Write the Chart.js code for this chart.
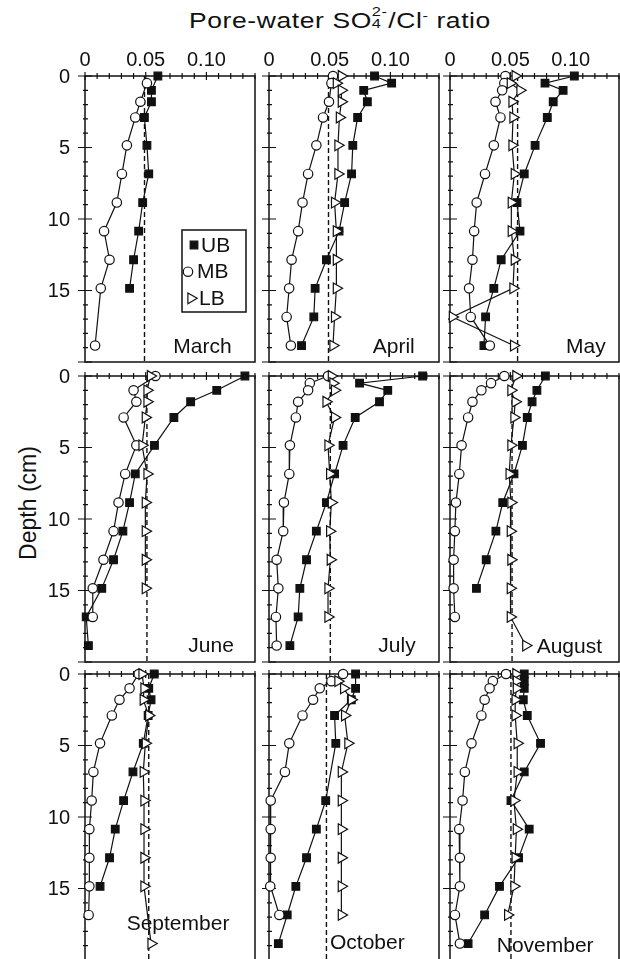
<!DOCTYPE html>
<html>
<head>
<meta charset="utf-8">
<script src="https://cdn.jsdelivr.net/npm/chart.js@4.4.0/dist/chart.umd.min.js"></script>
<style>
  html, body { margin: 0; padding: 0; background: #fff; }
  body { width: 620px; height: 959px; position: relative; overflow: hidden;
         font-family: "Liberation Sans", Arial, sans-serif; color: #111; }
  canvas { position: absolute; }
  #title { position: absolute; left: 189px; top: 9px; font-size: 22px; line-height: 1; white-space: nowrap;
           letter-spacing: 0.5px; transform-origin: 0 0; }
  #title .stack { display: inline-block; position: relative; width: 0.62em; height: 1em; vertical-align: top; }
  #title .sp { position: absolute; left: 0; top: -0.28em; font-size: 0.62em; }
  #title .sb { position: absolute; left: 0; top: 0.62em; font-size: 0.62em; }
  #title sup { font-size: 0.62em; vertical-align: 0.55em; }
  #ylab { position: absolute; left: 28px; top: 503px; font-size: 23px; white-space: nowrap;
          transform: translate(-50%, -50%) rotate(-90deg); }
</style>
</head>
<body>
<div id="title">Pore-water SO<span class="stack"><span class="sp">2-</span><span class="sb">4</span></span>/Cl<sup>-</sup> ratio</div>
<div id="ylab">Depth (cm)</div>

<script>
// sampling depths (cm), shared by every profile
const depths = [0, 0.5, 1, 1.8, 2.9, 4.85, 6.85, 8.85, 10.85, 12.85, 14.85, 16.85, 18.85];

const months = ["March", "April", "May", "June", "July", "August", "September", "October", "November"];

const ratioTicks = [0, 0.05, 0.10];
const depthTicks = [0, 5, 10, 15];

// SO4/Cl ratio per depth, null = not sampled
const ubMarch = [0.060, null, 0.0547, 0.0547, 0.0489, 0.051, 0.0525, 0.0475, 0.0442, 0.040, 0.0367, null, null];
const mbMarch = [null, 0.051, null, 0.0456, 0.0414, 0.0345, 0.0304, 0.0262, 0.0157, 0.0202, 0.013, null, 0.0083];
const lbMarch = [null, null, null, null, null, null, null, null, null, null, null, null, null];

const ubApril = [0.0869, 0.101, 0.078, 0.081, 0.073, 0.069, 0.068, 0.0623, 0.0577, 0.0473, 0.038, 0.0369, 0.0268];
const mbApril = [0.0527, 0.0514, null, 0.0494, 0.0445, 0.039, 0.0322, 0.0276, 0.024, 0.0186, 0.0166, 0.0145, 0.018];
const lbApril = [0.0596, 0.0555, 0.0596, 0.0596, 0.058, 0.0568, 0.0568, 0.054, 0.0555, 0.0555, 0.0555, 0.054, 0.0527];

const ubMay = [0.103, 0.0787, 0.0937, 0.0855, 0.0806, 0.0705, 0.0615, 0.0555, 0.058, 0.0424, 0.0363, 0.0295, 0.0281];
const mbMay = [0.0459, 0.045, 0.0432, 0.0377, 0.0418, 0.0363, 0.029, 0.0221, 0.020, 0.0186, 0.0158, 0.0172, 0.033];
const lbMay = [0.054, 0.050, 0.058, 0.0514, 0.0522, 0.0514, 0.0533, 0.0508, 0.0508, 0.0533, 0.0522, 0.002, 0.0527];

const ubJune = [0.1317, null, 0.1085, 0.087, 0.0732, 0.0572, 0.0414, 0.0367, 0.0312, 0.0235, 0.0138, 0.001, 0.0028];
const mbJune = [0.058, null, 0.040, 0.0423, 0.0318, 0.0423, 0.0331, 0.0276, 0.0235, 0.0152, 0.0064, 0.0064, null];
const lbJune = [0.0539, null, 0.0511, 0.0511, 0.0497, 0.047, 0.0511, 0.0497, 0.0497, 0.0497, 0.0497, null, null];

const ubJuly = [0.1265, 0.0746, 0.0978, 0.091, 0.071, 0.061, 0.054, 0.0473, 0.039, 0.0309, 0.0254, 0.024, 0.0172];
const mbJuly = [0.0486, 0.0336, 0.0322, 0.024, 0.0221, 0.0172, 0.0167, 0.0123, 0.0117, 0.0063, 0.0077, 0.0057, 0.0063];
const lbJuly = [0.0514, 0.0527, 0.054, 0.047, 0.054, 0.0486, 0.050, 0.0514, 0.050, 0.0505, 0.0486, 0.0486, null];

const ubAugust = [0.079, null, 0.072, 0.068, 0.064, 0.060, 0.053, 0.0437, 0.038, 0.030, 0.0219, null, null];
const mbAugust = [0.045, 0.034, 0.026, 0.0186, 0.015, 0.0096, 0.0077, 0.0049, 0.004, 0.003, 0.003, 0.004, null];
const lbAugust = [0.0546, null, 0.0505, 0.054, 0.053, 0.0505, 0.049, 0.0505, 0.050, 0.0505, 0.050, 0.050, 0.0628];

const ubSeptember = [0.057, null, 0.0525, 0.0544, 0.052, 0.048, 0.0395, 0.0318, 0.0249, 0.0202, 0.0124, null, null];
const mbSeptember = [0.0442, null, 0.0367, 0.0284, 0.0221, 0.0124, 0.0069, 0.0055, 0.0036, 0.0036, 0.0036, 0.003, null];
const lbSeptember = [0.047, null, 0.0486, 0.048, 0.0525, 0.0497, 0.048, 0.0486, 0.0486, 0.0486, 0.0486, null, 0.0544];

const ubOctober = [0.0713, null, 0.0713, 0.0678, 0.054, 0.055, null, 0.0467, 0.039, 0.0309, 0.0221, 0.015, 0.0077];
const mbOctober = [0.061, 0.0514, 0.0418, 0.0363, 0.0276, 0.0167, 0.0131, 0.0014, 0.0014, 0.0014, 0.001, 0.0085, null];
const lbOctober = [null, 0.0568, 0.0615, 0.0678, 0.0623, 0.065, 0.0596, 0.0596, 0.0596, 0.0596, 0.0596, 0.0596, null];

const ubNovember = [0.0615, 0.0615, 0.0615, 0.0607, 0.064, 0.075, 0.0615, 0.0505, 0.0656, 0.0568, 0.041, 0.0287, 0.015];
const mbNovember = [0.0464, 0.0355, 0.0328, 0.0287, 0.026, 0.0178, 0.0123, 0.0104, 0.0076, 0.0082, 0.0082, 0.0041, 0.0082];
const lbNovember = [0.0546, 0.055, 0.055, 0.054, 0.054, 0.0557, 0.0557, 0.053, 0.055, 0.054, 0.053, 0.0478, null];

// dashed reference (seawater) ratio as drawn in each panel
const refLine = [0.049, 0.049, 0.056, 0.051, 0.0505, 0.0514, 0.0525, 0.0473, 0.0505];

const ubSeries = [ubMarch, ubApril, ubMay, ubJune, ubJuly, ubAugust, ubSeptember, ubOctober, ubNovember];
const mbSeries = [mbMarch, mbApril, mbMay, mbJune, mbJuly, mbAugust, mbSeptember, mbOctober, mbNovember];
const lbSeries = [lbMarch, lbApril, lbMay, lbJune, lbJuly, lbAugust, lbSeptember, lbOctober, lbNovember];

// layout (pixels) and month label anchors (ratio, depth)
const colLeft = [85, 269, 450];
const colWidth = [170, 170, 169];
const rowTop = [76, 376, 674];
const rowHeight = 286;
const labelAt = [[0.0727, 19.39], [0.0854, 19.39], [0.0961, 19.39],
                 [0.0851, 19.3], [0.090, 19.3], [0.0718, 19.37],
                 [0.0343, 17.9], [0.0502, 19.25], [0.0387, 19.44]];

const FONT = "'Liberation Sans', Arial, sans-serif";
const INK = "#111";

const markers = {
  UB: { pointStyle: "rect", radius: 5.4, rotation: 0, fill: INK },
  MB: { pointStyle: "circle", radius: 4.7, rotation: 0, fill: "#fff" },
  LB: { pointStyle: "triangle", radius: 6.2, rotation: 90, fill: "#fff" },
};

function makeDataset(label, values) {
  const m = markers[label];
  return {
    label,
    data: depths.map((d, k) => ({ x: values[k], y: d })).filter((p) => p.x !== null),
    showLine: true,
    borderColor: INK,
    borderWidth: 1.2,
    pointStyle: m.pointStyle,
    pointRadius: m.radius,
    pointRotation: m.rotation,
    pointBackgroundColor: m.fill,
    pointBorderColor: INK,
    pointBorderWidth: 1.2,
    clip: false,
  };
}

function drawMarker(ctx, m, x, y) {
  ctx.fillStyle = m.fill;
  ctx.strokeStyle = INK;
  ctx.lineWidth = 1.2;
  Chart.helpers.drawPoint(ctx, { pointStyle: m.pointStyle, radius: m.radius, rotation: m.rotation, borderWidth: 1.2 }, x, y);
}

const panelPlugin = {
  id: "panelFrame",
  beforeDatasetsDraw(chart, args, opts) {
    const { ctx, chartArea: { left, top, right, bottom }, scales: { x, y } } = chart;
    ctx.save();
    ctx.strokeStyle = INK;
    ctx.lineWidth = 1.5;
    ctx.strokeRect(left, top, right - left, bottom - top);

    ctx.lineWidth = 1.2;
    ctx.beginPath();
    for (let k = 0; k <= 14; k++) {
      const px = x.getPixelForValue(k / 100);
      const len = k % 5 === 0 ? 4 : 3;
      ctx.moveTo(px, top - len);
      ctx.lineTo(px, top + len);
    }
    for (let k = 0; k <= 20; k++) {
      const py = y.getPixelForValue(k);
      if (k % 5 === 0) {
        ctx.moveTo(left - 7, py);
        ctx.lineTo(left + 7, py);
      } else {
        ctx.moveTo(left - 2, py);
        ctx.lineTo(left + 3, py);
      }
    }
    ctx.stroke();

    const rx = x.getPixelForValue(refLine[opts.index]);
    ctx.setLineDash([5, 3]);
    ctx.lineWidth = 1.4;
    ctx.beginPath();
    ctx.moveTo(rx, top);
    ctx.lineTo(rx, bottom);
    ctx.stroke();
    ctx.restore();
  },
  afterDraw(chart, args, opts) {
    const { ctx, chartArea: { left, top }, scales: { x, y } } = chart;
    const i = opts.index;
    ctx.save();
    ctx.fillStyle = INK;

    // tick labels on the outer panels only
    ctx.font = "20px " + FONT;
    if (opts.row === 0) {
      ctx.textAlign = "center";
      ctx.textBaseline = "middle";
      ratioTicks.forEach((v) => {
        ctx.fillText(v === 0 ? "0" : v.toFixed(2), x.getPixelForValue(v), top - 16);
      });
    }
    if (opts.col === 0) {
      ctx.textAlign = "right";
      ctx.textBaseline = "middle";
      depthTicks.forEach((v) => {
        ctx.fillText(String(v), left - 15, y.getPixelForValue(v) + 1);
      });
    }

    ctx.font = "21px " + FONT;
    ctx.textAlign = "left";
    ctx.textBaseline = "alphabetic";
    ctx.fillText(months[i], x.getPixelForValue(labelAt[i][0]), y.getPixelForValue(labelAt[i][1]));

    if (i === 0) {
      // legend box in the March panel
      const bx = left + 97, by = top + 154;
      ctx.strokeStyle = INK;
      ctx.lineWidth = 1.5;
      ctx.strokeRect(bx, by, 64, 82);
      const rows = [["UB", 12, 15, 19], ["MB", 6, 41.7, 15], ["LB", 9, 68.3, 17]];
      rows.forEach(([name, mx, my, tx]) => {
        drawMarker(ctx, markers[name], bx + mx, by + my);
        ctx.fillStyle = INK;
        ctx.font = "21px " + FONT;
        ctx.textBaseline = "middle";
        ctx.fillText(name, bx + tx, by + my + 1);
      });
    }
    ctx.restore();
  },
};

function buildConfig(i, pad) {
  const col = i % 3, row = Math.floor(i / 3);
  return {
    type: "scatter",
    data: {
      datasets: [
        makeDataset("LB", lbSeries[i]),
        makeDataset("MB", mbSeries[i]),
        makeDataset("UB", ubSeries[i]),
      ],
    },
    options: {
      responsive: false,
      animation: false,
      devicePixelRatio: 1,
      layout: { padding: pad },
      scales: {
        x: { type: "linear", position: "top", min: 0, max: 0.14, display: false },
        y: { type: "linear", position: "left", min: 0, max: 20, reverse: true, display: false },
      },
      plugins: {
        legend: { display: false },
        tooltip: { enabled: false },
        panelFrame: { index: i, row, col },
      },
    },
    plugins: [panelPlugin],
  };
}

months.forEach((m, i) => {
  const col = i % 3, row = Math.floor(i / 3);
  const pad = { left: col === 0 ? 50 : 14, top: row === 0 ? 40 : 14, right: 14, bottom: 14 };
  const canvas = document.createElement("canvas");
  canvas.width = colWidth[col] + pad.left + pad.right;
  canvas.height = rowHeight + pad.top + pad.bottom;
  canvas.style.left = (colLeft[col] - pad.left) + "px";
  canvas.style.top = (rowTop[row] - pad.top) + "px";
  document.body.appendChild(canvas);
  new Chart(canvas.getContext("2d"), buildConfig(i, pad));
});

// stretch the title to the width it spans in the figure
const title = document.getElementById("title");
title.style.transform = "scaleX(" + (302 / title.getBoundingClientRect().width).toFixed(3) + ")";
</script>
</body>
</html>
